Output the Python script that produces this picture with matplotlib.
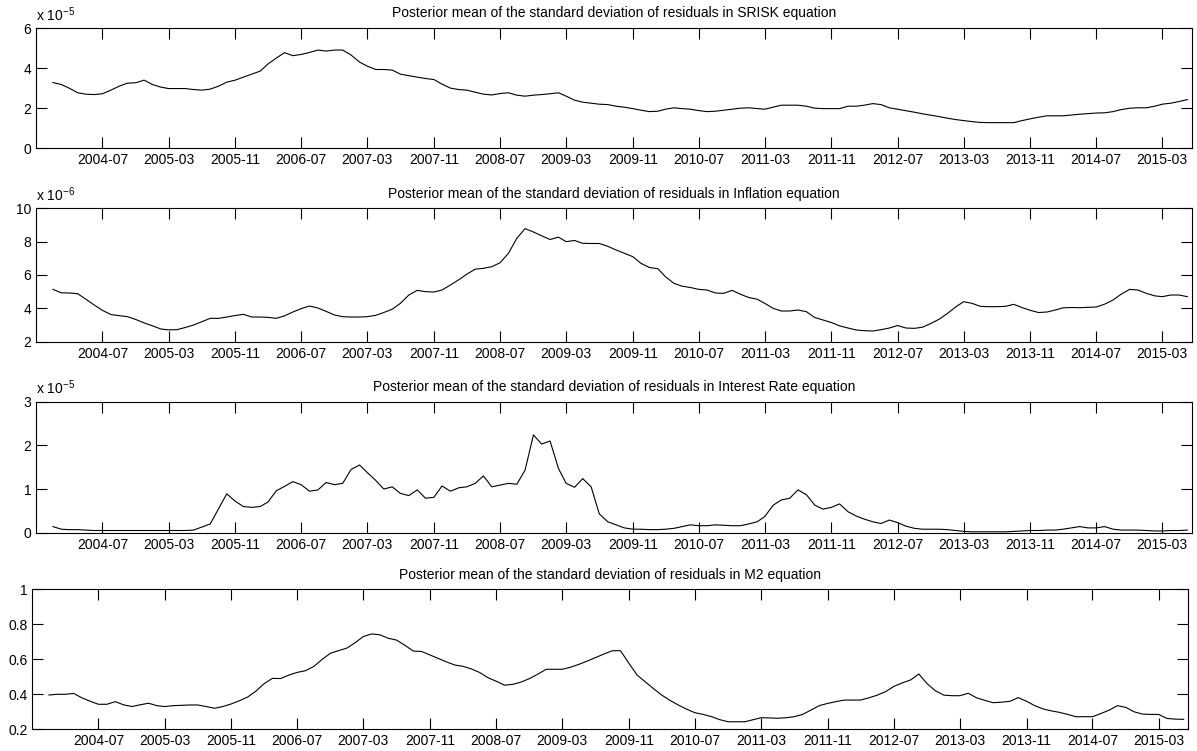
import numpy as np
import pandas as pd
import matplotlib
matplotlib.use("Agg")
import matplotlib.pyplot as plt
import matplotlib.dates as mdates

plt.rcParams['font.family'] = ['Liberation Sans', 'DejaVu Sans']
plt.rcParams['mathtext.fontset'] = 'custom'
plt.rcParams['mathtext.rm'] = 'Liberation Sans'
plt.rcParams['mathtext.it'] = 'Liberation Sans:italic'

# monthly posterior means, Jan 2004 - Jun 2015
dates = pd.date_range('2004-01-01', periods=138, freq='MS')

srisk = [  # x 1e-5
    3.28, 3.18, 3.0, 2.77, 2.7, 2.68, 2.72, 2.9, 3.1, 3.25,
    3.27, 3.4, 3.18, 3.05, 2.98, 2.98, 2.98, 2.93, 2.9, 2.95,
    3.1, 3.3, 3.4, 3.55, 3.7, 3.85, 4.2, 4.5, 4.77, 4.62,
    4.68, 4.78, 4.9, 4.85, 4.9, 4.9, 4.65, 4.3, 4.1, 3.93,
    3.93, 3.9, 3.7, 3.62, 3.55, 3.48, 3.43, 3.2, 3.0, 2.93,
    2.9, 2.8, 2.7, 2.66, 2.73, 2.77, 2.65, 2.6, 2.65, 2.68,
    2.72, 2.77, 2.6, 2.4, 2.3, 2.25, 2.2, 2.18, 2.1, 2.05,
    1.98, 1.9, 1.83, 1.85, 1.95, 2.02, 1.98, 1.95, 1.88, 1.83,
    1.85, 1.9, 1.95, 2.0, 2.02, 1.98, 1.95, 2.05, 2.15, 2.15,
    2.15, 2.1, 2.0, 1.98, 1.98, 1.98, 2.1, 2.1, 2.15, 2.23,
    2.18, 2.02, 1.95, 1.88, 1.8, 1.72, 1.65, 1.58, 1.5, 1.43,
    1.38, 1.33, 1.29, 1.28, 1.28, 1.28, 1.28, 1.38, 1.47, 1.55,
    1.62, 1.62, 1.62, 1.66, 1.7, 1.73, 1.76, 1.77, 1.83, 1.93,
    2.0, 2.02, 2.02, 2.1, 2.2, 2.25, 2.33, 2.43,
]

inflation = [  # x 1e-6
    5.14, 4.93, 4.92, 4.88, 4.55, 4.2, 3.88, 3.63, 3.56, 3.5,
    3.33, 3.13, 2.95, 2.76, 2.71, 2.72, 2.85, 3.0, 3.2, 3.4,
    3.4, 3.48, 3.57, 3.64, 3.48, 3.48, 3.46, 3.4, 3.55, 3.78,
    3.98, 4.14, 4.02, 3.82, 3.6, 3.5, 3.48, 3.48, 3.5, 3.58,
    3.75, 3.95, 4.3, 4.8, 5.08, 5.0, 4.98, 5.1, 5.4, 5.72,
    6.05, 6.35, 6.4, 6.5, 6.73, 7.3, 8.2, 8.78, 8.58, 8.35,
    8.13, 8.27, 8.0, 8.07, 7.9, 7.89, 7.89, 7.72, 7.5, 7.3,
    7.1, 6.7, 6.45, 6.38, 5.9, 5.5, 5.33, 5.25, 5.14, 5.1,
    4.92, 4.9, 5.08, 4.85, 4.65, 4.55, 4.3, 4.0, 3.84, 3.84,
    3.9, 3.8, 3.45, 3.3, 3.15, 2.95, 2.82, 2.7, 2.66, 2.64,
    2.72, 2.82, 2.97, 2.82, 2.8, 2.87, 3.1, 3.35, 3.7, 4.1,
    4.4, 4.3, 4.12, 4.1, 4.1, 4.12, 4.24, 4.05, 3.88, 3.75,
    3.78, 3.9, 4.03, 4.05, 4.04, 4.06, 4.08, 4.25, 4.5, 4.85,
    5.14, 5.1, 4.9, 4.75, 4.7, 4.8, 4.8, 4.7,
]

interest = [  # x 1e-5
    0.14, 0.08, 0.07, 0.07, 0.06, 0.05, 0.05, 0.05, 0.05, 0.05,
    0.05, 0.05, 0.05, 0.05, 0.05, 0.05, 0.05, 0.06, 0.13, 0.2,
    0.55, 0.89, 0.72, 0.6, 0.58, 0.6, 0.7, 0.96, 1.06, 1.17,
    1.1, 0.95, 0.98, 1.15, 1.1, 1.13, 1.45, 1.55, 1.38, 1.2,
    1.0, 1.05, 0.9, 0.85, 0.98, 0.79, 0.81, 1.07, 0.95, 1.03,
    1.05, 1.13, 1.3, 1.05, 1.09, 1.13, 1.11, 1.43, 2.24, 2.03,
    2.1, 1.47, 1.13, 1.04, 1.24, 1.05, 0.43, 0.25, 0.18, 0.11,
    0.08, 0.08, 0.07, 0.07, 0.08, 0.1, 0.14, 0.18, 0.16, 0.16,
    0.18, 0.17, 0.16, 0.16, 0.2, 0.25, 0.37, 0.63, 0.75, 0.79,
    0.98, 0.87, 0.63, 0.54, 0.58, 0.66, 0.48, 0.38, 0.31, 0.25,
    0.21, 0.29, 0.23, 0.15, 0.1, 0.08, 0.08, 0.08, 0.07, 0.05,
    0.03, 0.02, 0.02, 0.02, 0.02, 0.02, 0.03, 0.04, 0.05, 0.05,
    0.06, 0.06, 0.08, 0.11, 0.14, 0.11, 0.11, 0.14, 0.08, 0.06,
    0.06, 0.06, 0.05, 0.04, 0.04, 0.05, 0.05, 0.06,
]

m2 = [
    0.396, 0.4, 0.4, 0.405, 0.38, 0.36, 0.343, 0.343, 0.358, 0.34,
    0.33, 0.34, 0.349, 0.335, 0.33, 0.335, 0.337, 0.339, 0.339, 0.33,
    0.32, 0.33, 0.345, 0.363, 0.385, 0.42, 0.46, 0.491, 0.49, 0.51,
    0.525, 0.535, 0.56, 0.6, 0.635, 0.65, 0.665, 0.697, 0.73, 0.745,
    0.74, 0.72, 0.71, 0.68, 0.647, 0.645, 0.625, 0.605, 0.585, 0.567,
    0.56, 0.545, 0.525, 0.495, 0.475, 0.452, 0.457, 0.47, 0.49, 0.515,
    0.543, 0.543, 0.543, 0.555, 0.571, 0.59, 0.61, 0.63, 0.649, 0.649,
    0.577, 0.51, 0.47, 0.43, 0.396, 0.365, 0.339, 0.315, 0.295, 0.285,
    0.272, 0.255, 0.243, 0.243, 0.243, 0.255, 0.266, 0.265, 0.263, 0.266,
    0.272, 0.285, 0.31, 0.335, 0.348, 0.358, 0.367, 0.367, 0.367, 0.38,
    0.395, 0.415, 0.445, 0.465, 0.482, 0.516, 0.46, 0.42, 0.395, 0.392,
    0.392, 0.406, 0.38, 0.365, 0.352, 0.355, 0.36, 0.381, 0.36, 0.335,
    0.316, 0.305, 0.297, 0.285, 0.272, 0.272, 0.272, 0.29, 0.31, 0.335,
    0.325, 0.3, 0.287, 0.285, 0.285, 0.262, 0.258, 0.257,
]

titles = [
    'Posterior mean of the standard deviation of residuals in SRISK equation',
    'Posterior mean of the standard deviation of residuals in Inflation equation',
    'Posterior mean of the standard deviation of residuals in Interest Rate equation',
    'Posterior mean of the standard deviation of residuals in M2 equation',
]
exponents = ['-5', '-6', '-5', None]
yticks = [[0, 2, 4, 6], [2, 4, 6, 8, 10], [0, 1, 2, 3], [0.2, 0.4, 0.6, 0.8, 1]]
yticklabels = [['0', '2', '4', '6'], ['2', '4', '6', '8', '10'],
               ['0', '1', '2', '3'], ['0.2', '0.4', '0.6', '0.8', '1']]
xtick_dates = pd.date_range('2004-07-01', '2015-03-01', freq='8MS')

W, H = 1197, 751
fig = plt.figure(figsize=(W / 100, H / 100), dpi=100)

# axes boxes in pixels: left, right, top, bottom
boxes = [(36.3, 1191.7, 28, 148.3),
         (36.3, 1191.7, 208.3, 341.7),
         (36.3, 1191.7, 401.7, 532.7),
         (32.3, 1188, 589.3, 729.3)]

series = [srisk, inflation, interest, m2]
xlim = (pd.Timestamp('2003-11-01'), pd.Timestamp('2015-06-17'))

for k in range(4):
    l, r, t, b = boxes[k]
    ax = fig.add_axes([l / W, 1 - b / H, (r - l) / W, (b - t) / H])
    ax.plot(dates, series[k], color='black', lw=0.8)
    ax.set_xlim(*xlim)
    ax.set_ylim(yticks[k][0], yticks[k][-1])
    ax.set_yticks(yticks[k])
    ax.set_yticklabels(yticklabels[k])
    ax.set_xticks(xtick_dates)
    ax.xaxis.set_major_formatter(mdates.DateFormatter('%Y-%m'))
    ax.tick_params(direction='in', top=True, right=True, length=8,
                   width=0.8, labelsize=10, pad=3.5, colors='black')
    for s in ax.spines.values():
        s.set_linewidth(0.8)
    ax.set_title(titles[k], fontsize=10, pad=7.7)
    if exponents[k]:
        ax.annotate('x 10$^{\\mathregular{%s}}$' % exponents[k].replace('-', '\u2212'),
                    xy=(0, 1), xycoords='axes fraction',
                    xytext=(0, 5.3), textcoords='offset points',
                    ha='left', va='baseline', fontsize=10)

fig.savefig('out.png', dpi=100)
